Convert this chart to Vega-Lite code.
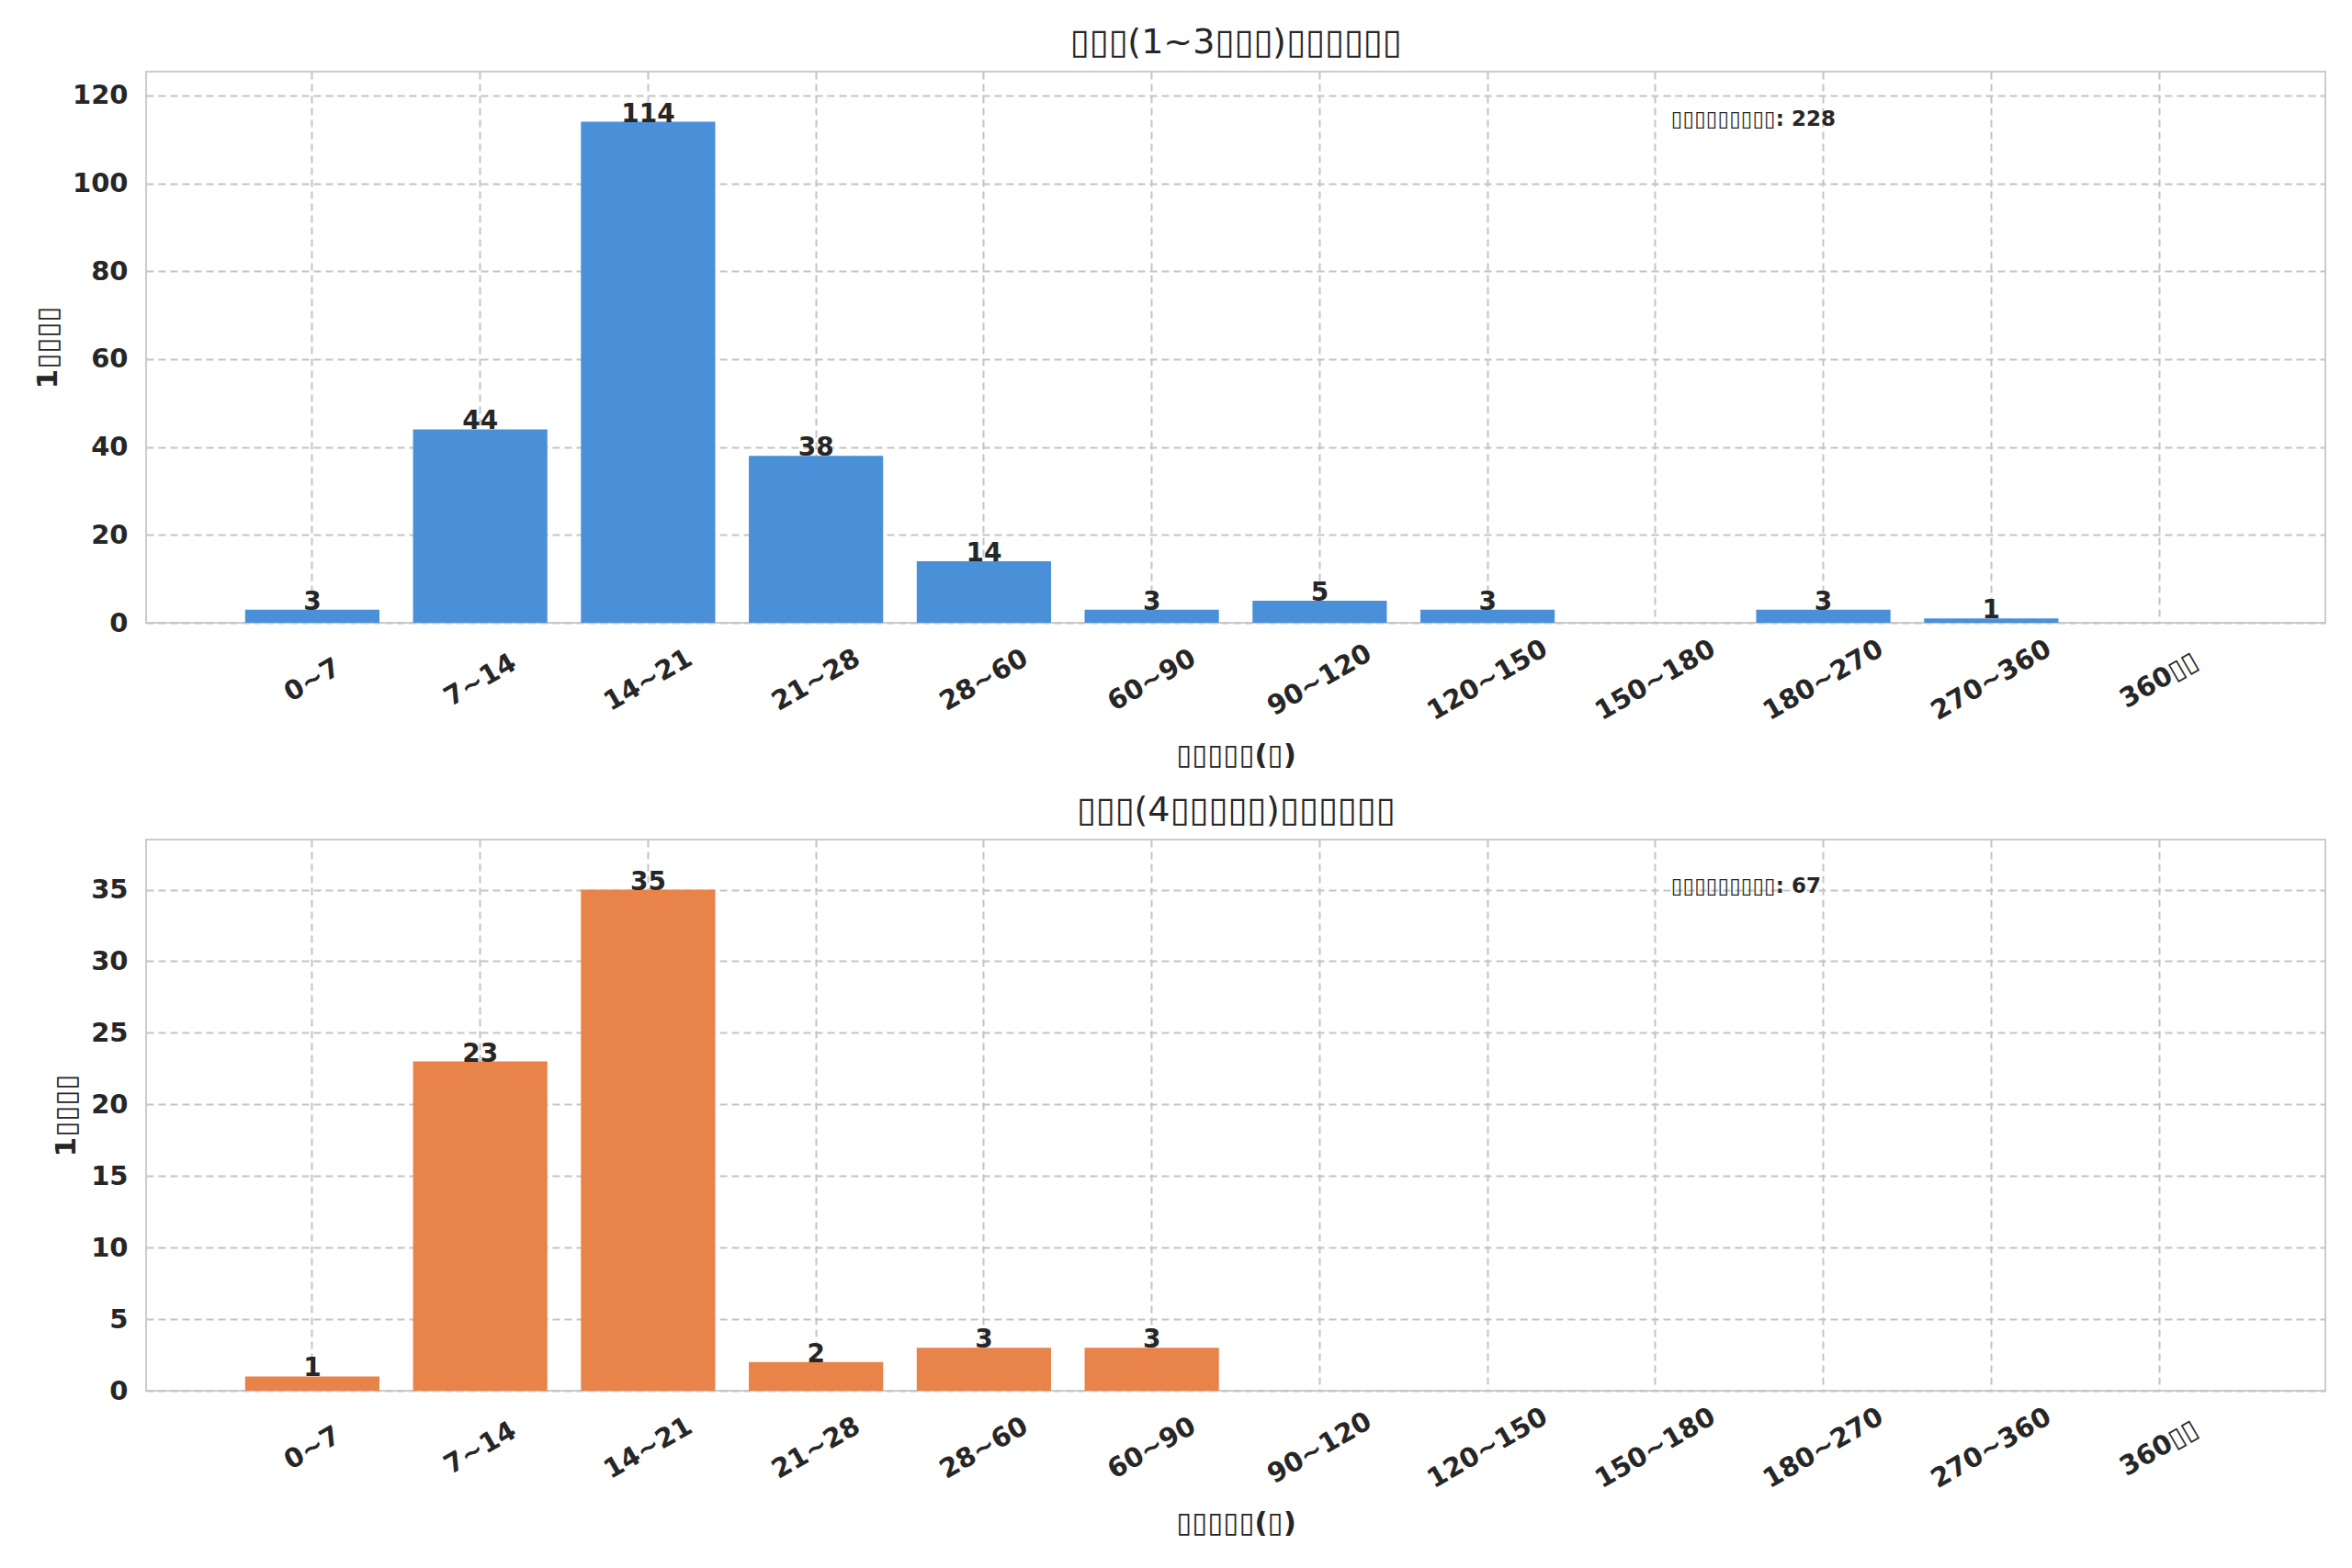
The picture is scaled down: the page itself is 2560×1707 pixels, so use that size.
{
  "$schema": "https://vega.github.io/schema/vega-lite/v6.json",
  "background": "white",
  "padding": {"left": 35, "top": 27, "right": 21, "bottom": 10},
  "spacing": 24,
  "config": {
    "font": "DejaVu Sans",
    "view": {"stroke": "#cccccc", "strokeWidth": 2},
    "axis": {
      "grid": true,
      "gridColor": "#c4c4c4",
      "gridDash": [8, 5],
      "gridWidth": 2,
      "domain": false,
      "ticks": false,
      "labelFont": "DejaVu Sans",
      "labelFontWeight": "bold",
      "labelFontSize": 29,
      "labelColor": "#262626",
      "titleFont": "DejaVu Sans",
      "titleFontWeight": "bold",
      "titleFontSize": 31,
      "titleColor": "#262626"
    },
    "title": {"font": "DejaVu Sans", "fontSize": 38, "fontWeight": "normal", "color": "#262626", "offset": 12}
  },
  "datasets": {
    "short": [
      {"range": "0~7", "count": 3},
      {"range": "7~14", "count": 44},
      {"range": "14~21", "count": 114},
      {"range": "21~28", "count": 38},
      {"range": "28~60", "count": 14},
      {"range": "60~90", "count": 3},
      {"range": "90~120", "count": 5},
      {"range": "120~150", "count": 3},
      {"range": "150~180", "count": 0},
      {"range": "180~270", "count": 3},
      {"range": "270~360", "count": 1},
      {"range": "360▯▯", "count": 0}
    ],
    "long": [
      {"range": "0~7", "count": 1},
      {"range": "7~14", "count": 23},
      {"range": "14~21", "count": 35},
      {"range": "21~28", "count": 2},
      {"range": "28~60", "count": 3},
      {"range": "60~90", "count": 3},
      {"range": "90~120", "count": 0},
      {"range": "120~150", "count": 0},
      {"range": "150~180", "count": 0},
      {"range": "180~270", "count": 0},
      {"range": "270~360", "count": 0},
      {"range": "360▯▯", "count": 0}
    ],
    "noteShort": [{"range": "150~180", "y": 114.5, "note": "▯▯▯▯▯▯▯▯▯: 228"}],
    "noteLong": [{"range": "150~180", "y": 35.2, "note": "▯▯▯▯▯▯▯▯▯: 67"}]
  },
  "vconcat": [
    {
      "width": 2372,
      "height": 600,
      "title": {"text": "▯▯▯(1~3▯▯▯)▯▯▯▯▯▯"},
      "data": {"name": "short"},
      "encoding": {
        "x": {
          "field": "range", "type": "nominal", "sort": null,
          "scale": {"paddingInner": 0.2, "paddingOuter": 0.59},
          "axis": {"title": "▯▯▯▯▯(▯)", "labelAngle": -30, "labelAlign": "center", "labelBaseline": "middle", "labelPadding": 62, "titlePadding": 18, "bandPosition": 0.5}
        },
        "y": {
          "field": "count", "type": "quantitative",
          "scale": {"domain": [0, 125.4], "nice": false},
          "axis": {"title": "1▯▯▯▯", "values": [0, 20, 40, 60, 80, 100, 120], "labelPadding": 20, "titlePadding": 10}
        }
      },
      "layer": [
        {"mark": {"type": "bar", "color": "#4a90d9"}},
        {
          "transform": [{"filter": "datum.count > 0"}],
          "mark": {"type": "text", "baseline": "alphabetic", "align": "center", "fontSize": 28, "fontWeight": "bold", "color": "#262626"},
          "encoding": {"text": {"field": "count", "type": "quantitative"}}
        },
        {
          "data": {"name": "noteShort"},
          "mark": {"type": "text", "align": "left", "baseline": "middle", "dx": 17, "fontSize": 23, "fontWeight": "bold", "color": "#262626"},
          "encoding": {
            "x": {"field": "range", "type": "nominal", "sort": null},
            "y": {"field": "y", "type": "quantitative"},
            "text": {"field": "note"}
          }
        }
      ]
    },
    {
      "width": 2372,
      "height": 600,
      "title": {"text": "▯▯▯(4▯▯▯▯▯)▯▯▯▯▯▯"},
      "data": {"name": "long"},
      "encoding": {
        "x": {
          "field": "range", "type": "nominal", "sort": null,
          "scale": {"paddingInner": 0.2, "paddingOuter": 0.59},
          "axis": {"title": "▯▯▯▯▯(▯)", "labelAngle": -30, "labelAlign": "center", "labelBaseline": "middle", "labelPadding": 62, "titlePadding": 18, "bandPosition": 0.5}
        },
        "y": {
          "field": "count", "type": "quantitative",
          "scale": {"domain": [0, 38.5], "nice": false},
          "axis": {"title": "1▯▯▯▯", "values": [0, 5, 10, 15, 20, 25, 30, 35], "labelPadding": 20, "titlePadding": 10}
        }
      },
      "layer": [
        {"mark": {"type": "bar", "color": "#e8834a"}},
        {
          "transform": [{"filter": "datum.count > 0"}],
          "mark": {"type": "text", "baseline": "alphabetic", "align": "center", "fontSize": 28, "fontWeight": "bold", "color": "#262626"},
          "encoding": {"text": {"field": "count", "type": "quantitative"}}
        },
        {
          "data": {"name": "noteLong"},
          "mark": {"type": "text", "align": "left", "baseline": "middle", "dx": 17, "fontSize": 23, "fontWeight": "bold", "color": "#262626"},
          "encoding": {
            "x": {"field": "range", "type": "nominal", "sort": null},
            "y": {"field": "y", "type": "quantitative"},
            "text": {"field": "note"}
          }
        }
      ]
    }
  ]
}
